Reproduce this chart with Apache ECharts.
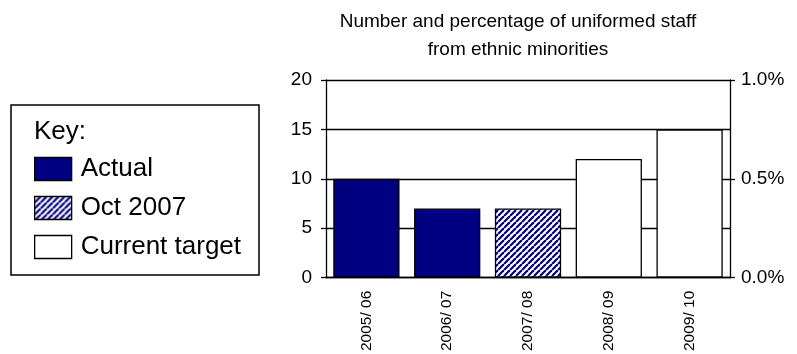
<!DOCTYPE html>
<html>
<head>
<meta charset="utf-8">
<script src="https://cdn.jsdelivr.net/npm/echarts@6/dist/echarts.min.js"></script>
<style>
  html, body { margin: 0; padding: 0; background: #fff; }
  #chart { width: 797px; height: 354px; }
</style>
</head>
<body>
<div id="chart"></div>
<script>
// data
var years = ['2005/ 06', '2006/ 07', '2007/ 08', '2008/ 09', '2009/ 10'];
var actual = [10, 7, null, null, null];
var oct2007 = [null, null, 7, null, null];
var target = [null, null, null, 12, 15];
var leftTicks = [0, 20, 5];      // min, max, interval
var rightTicks = [0, 1, 0.5];    // percent

// diagonal stripe fill for the Oct 2007 bar
function stripes() {
  var c = document.createElement('canvas');
  c.width = 6; c.height = 6;
  var ctx = c.getContext('2d');
  ctx.fillStyle = '#fff';
  ctx.fillRect(0, 0, 6, 6);
  ctx.strokeStyle = '#000080';
  ctx.lineWidth = 2.2;
  for (var k = -6; k <= 6; k += 6) {
    ctx.beginPath();
    ctx.moveTo(k, 6);
    ctx.lineTo(k + 6, 0);
    ctx.stroke();
  }
  return c;
}

var chart = echarts.init(document.getElementById('chart'));
var font = 'Liberation Sans, Arial, sans-serif';

var option = {
  animation: false,
  textStyle: { fontFamily: font },
  title: {
    text: 'Number and percentage of uniformed staff\nfrom ethnic minorities',
    left: 513,
    textAlign: 'center',
    top: 3,
    textStyle: { fontFamily: font, fontSize: 19, fontWeight: 'normal', color: '#000', lineHeight: 28 }
  },
  graphic: [
    { type: 'rect', shape: { x: 11, y: 105, width: 248, height: 170 },
      style: { fill: '#fff', stroke: '#000', lineWidth: 1.5 }, z: -1 },
    { type: 'text', x: 34, y: 132,
      style: { text: 'Key:', fontFamily: font, fontSize: 26, fill: '#000', verticalAlign: 'middle' } }
  ],
  legend: {
    orient: 'vertical',
    left: 34,
    top: 156,
    padding: 0,
    itemWidth: 37,
    itemHeight: 23,
    itemGap: 13,
    icon: 'rect',
    itemStyle: { borderColor: '#000', borderWidth: 1.3 },
    textStyle: { fontFamily: font, fontSize: 26, lineHeight: 23, color: '#000', padding: [0, 0, 0, 4] },
    data: ['Actual', 'Oct 2007', 'Current target']
  },
  grid: { left: 326, right: 67, top: 80, bottom: 75 },
  xAxis: {
    type: 'category',
    data: years,
    axisLine: { lineStyle: { color: '#000', width: 1.3 } },
    axisTick: { length: 5, lineStyle: { color: '#000', width: 1.3 } },
    axisLabel: { rotate: 90, fontSize: 15.5, color: '#000', margin: 13, fontFamily: font }
  },
  yAxis: [
    {
      type: 'value',
      min: leftTicks[0], max: leftTicks[1], interval: leftTicks[2],
      axisLine: { show: true, lineStyle: { color: '#000', width: 1.3 } },
      axisTick: { show: true, length: 5, lineStyle: { color: '#000', width: 1.3 } },
      axisLabel: { fontSize: 19, color: '#000', margin: 14, fontFamily: font },
      splitLine: { lineStyle: { color: '#000', width: 1.3 } }
    },
    {
      type: 'value',
      position: 'right',
      min: rightTicks[0], max: rightTicks[1], interval: rightTicks[2],
      axisLine: { show: true, lineStyle: { color: '#000', width: 1.3 } },
      axisTick: { show: true, length: 5, lineStyle: { color: '#000', width: 1.3 } },
      axisLabel: { fontSize: 19, color: '#000', margin: 11, fontFamily: font,
        formatter: function (v) { return v.toFixed(1) + '%'; } },
      splitLine: { show: false }
    }
  ],
  series: [
    { name: 'Actual', type: 'bar', stack: 'a', barWidth: '82%', data: actual,
      itemStyle: { color: '#000080', borderColor: '#000', borderWidth: 1.3 } },
    { name: 'Oct 2007', type: 'bar', stack: 'a', data: oct2007,
      itemStyle: { color: { image: stripes(), repeat: 'repeat' }, borderColor: '#000', borderWidth: 1.3 } },
    { name: 'Current target', type: 'bar', stack: 'a', data: target,
      itemStyle: { color: '#fff', borderColor: '#000', borderWidth: 1.3 } }
  ]
};
chart.setOption(option);
</script>
</body>
</html>
